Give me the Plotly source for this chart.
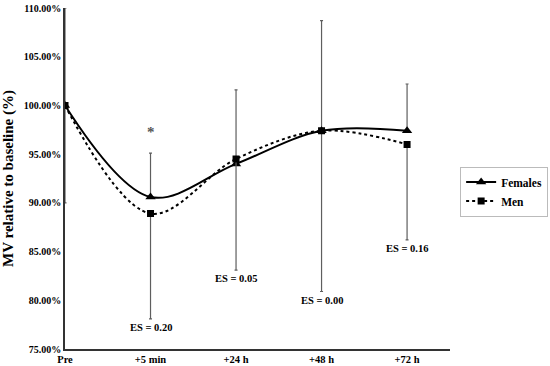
import plotly.graph_objects as go

categories = ["Pre", "+5 min", "+24 h", "+48 h", "+72 h"]
females = [100.0, 90.6, 94.0, 97.4, 97.4]
men = [100.0, 88.9, 94.5, 97.4, 96.0]
females_err_up = [10.0, 4.5, 7.6, 11.3, 4.8]
men_err_down = [10.0, 10.8, 11.4, 16.5, 9.8]
es_labels = ["", "ES = 0.20", "ES = 0.05", "ES = 0.00", "ES = 0.16"]
star_index = 1
star_value = 97.3

xs = list(range(len(categories)))
FONT = "Liberation Serif"

fig = go.Figure()
fig.add_trace(go.Scatter(
    x=xs, y=females, name="Females", mode="lines+markers",
    line=dict(color="black", width=2, shape="spline", smoothing=1),
    marker=dict(symbol="triangle-up", size=9, color="black"),
    error_y=dict(type="data", symmetric=False, array=females_err_up,
                 arrayminus=[0] * len(xs), color="#5e5e5e", thickness=1.2, width=1.5),
))
fig.add_trace(go.Scatter(
    x=xs, y=men, name="Men", mode="lines+markers",
    line=dict(color="black", width=2, dash="dot", shape="spline", smoothing=1),
    marker=dict(symbol="square", size=7, color="black"),
    error_y=dict(type="data", symmetric=False, array=[0] * len(xs),
                 arrayminus=men_err_down, color="#5e5e5e", thickness=1.2, width=1.5),
))

for i, lab in enumerate(es_labels):
    if lab:
        fig.add_annotation(x=xs[i], y=men[i] - men_err_down[i], text=lab,
                           showarrow=False, yanchor="top", yshift=-1,
                           font=dict(family=FONT, size=10.5, color="black", weight="bold"))
fig.add_annotation(x=xs[star_index], y=star_value, text="*", showarrow=False,
                   font=dict(family=FONT, size=15, color="#555555"))

fig.update_layout(
    width=550, height=366,
    margin=dict(l=65, r=2, t=8, b=17),
    paper_bgcolor="white", plot_bgcolor="white",
    font=dict(family=FONT, size=10, color="black", weight="bold"),
    showlegend=True,
    legend=dict(x=0.882, xanchor="left", y=0.535, yanchor="top",
                bordercolor="#bbbbbb", borderwidth=1, bgcolor="white",
                font=dict(family=FONT, size=11.5, color="black", weight="bold"),
                itemwidth=30, tracegroupgap=0),
    xaxis=dict(domain=[0, 0.859], range=[0, 4.5], tickmode="array", tickvals=xs,
               ticktext=categories, automargin=False,
               showgrid=False, zeroline=False, showline=True, linecolor="#333333",
               linewidth=1.5, ticks="", tickfont=dict(family=FONT, size=10.5, weight="bold")),
    yaxis=dict(range=[75, 110], dtick=5, tickformat=".2f", ticksuffix="%",
               automargin=False,
               showgrid=False, zeroline=False, showline=True, linecolor="#333333",
               linewidth=1.5, ticks="",
               tickfont=dict(family=FONT, size=10, weight="bold"),
               title=dict(text="MV relative to baseline (%)", standoff=10,
                          font=dict(family=FONT, size=15, weight="bold"))),
)

fig.write_html("out.html", config={"displayModeBar": False},
               post_script="document.body.style.margin='0px';document.body.style.padding='0px';")
